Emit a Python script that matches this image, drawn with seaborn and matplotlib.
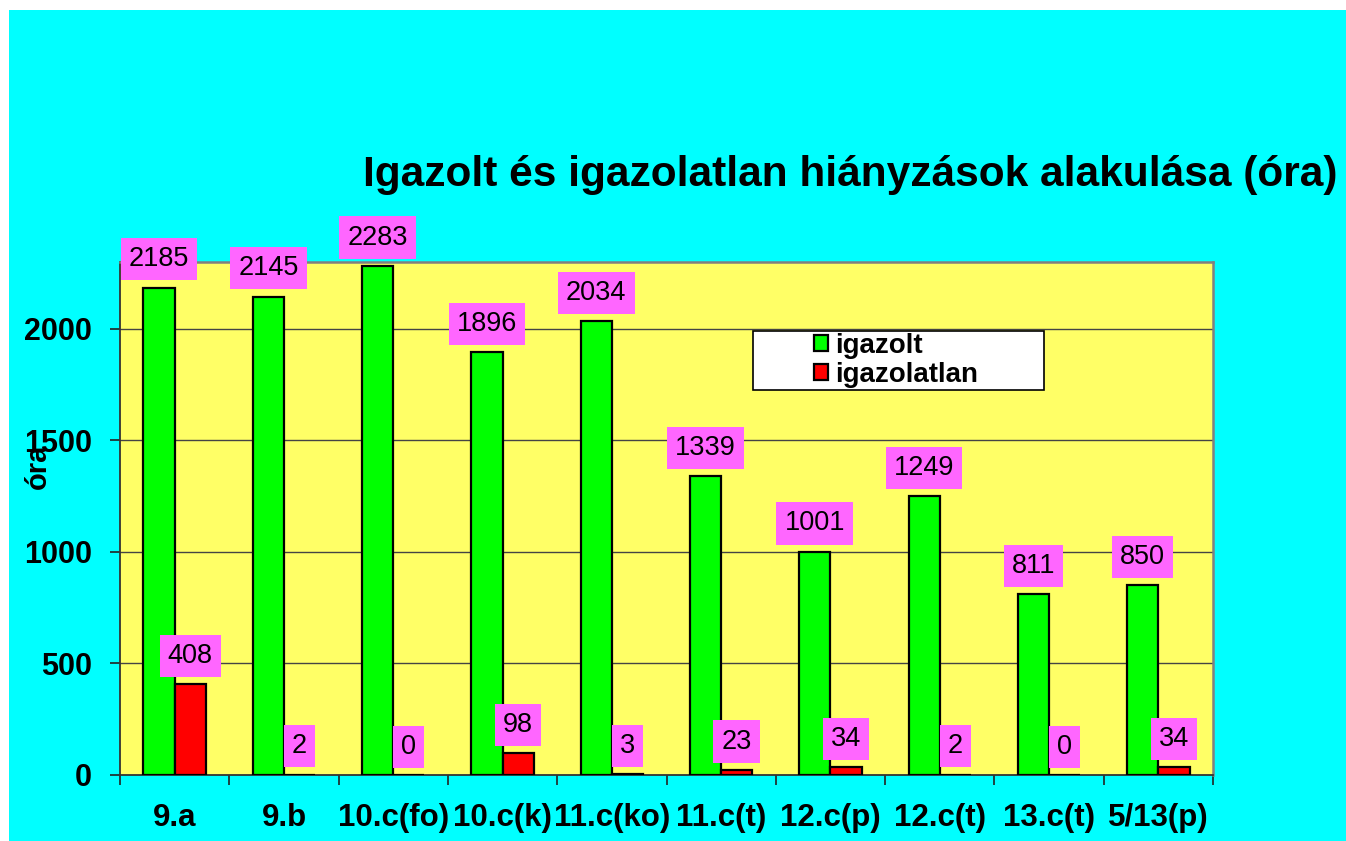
import matplotlib
matplotlib.use('Agg')
import matplotlib.pyplot as plt
from matplotlib.patches import Rectangle
import pandas as pd
import seaborn as sns

# adatok
osztalyok = ['9.a', '9.b', '10.c(fo)', '10.c(k)', '11.c(ko)', '11.c(t)',
             '12.c(p)', '12.c(t)', '13.c(t)', '5/13(p)']
igazolt = [2185, 2145, 2283, 1896, 2034, 1339, 1001, 1249, 811, 850]
igazolatlan = [408, 2, 0, 98, 3, 23, 34, 2, 0, 34]
tipusok = ['igazolt', 'igazolatlan']
y_ticks = [0, 500, 1000, 1500, 2000]

df = pd.DataFrame({
    'osztaly': osztalyok * 2,
    'ora': igazolt + igazolatlan,
    'tipus': [tipusok[0]] * len(osztalyok) + [tipusok[1]] * len(osztalyok),
})

sns.set_style('white')
plt.rcParams['font.family'] = ['Liberation Sans', 'DejaVu Sans']
plt.rcParams['text.color'] = 'black'
plt.rcParams['xtick.color'] = 'black'
plt.rcParams['ytick.color'] = 'black'

fig = plt.figure(figsize=(13.46, 8.41), dpi=100, facecolor='white')
fig.add_artist(Rectangle((9 / 1346, 0), 1, 1 - 10 / 841, transform=fig.transFigure,
                         facecolor='#00FFFF', edgecolor='none', zorder=-10))
ax = fig.add_axes([120 / 1346, 1 - 775 / 841, 1093 / 1346, 513 / 841])
ax.set_facecolor('#FFFF66')

sns.barplot(data=df, x='osztaly', y='ora', hue='tipus', order=osztalyok, hue_order=tipusok,
            palette=['#00FF00', '#FF0000'], saturation=1, edgecolor='black', linewidth=1.6,
            width=0.57, ax=ax, zorder=3)

# értékcímkék
for cont in ax.containers:
    ax.bar_label(cont, padding=11, fontsize=19.5, color='black', zorder=5,
                 bbox=dict(boxstyle='square,pad=0.3', facecolor='#FF66FF', edgecolor='none'))

ax.set_xlim(-0.5, len(osztalyok) - 0.5)
ax.set_ylim(0, 2300)
ax.set_yticks(y_ticks)
for yv in y_ticks[1:]:
    ax.axhline(yv, color='#444444', lw=1, zorder=1)

ax.set_xticks(range(len(osztalyok)))
ax.set_xticklabels(osztalyok, fontsize=22.5, fontweight='bold')
ax.set_xticks([i - 0.5 for i in range(len(osztalyok) + 1)], minor=True)
ax.tick_params(axis='x', which='major', bottom=True, length=0, pad=20)
ax.tick_params(axis='x', which='minor', bottom=True, length=7, width=1.2, direction='out',
               color='#222222')
ax.tick_params(axis='y', left=True, length=7, width=1.2, direction='out', pad=13,
               color='#222222', labelsize=22)
for t in ax.get_yticklabels():
    t.set_fontweight('bold')

for s in ['top', 'right']:
    ax.spines[s].set_color('#808080')
    ax.spines[s].set_linewidth(1.8)
for s in ['left', 'bottom']:
    ax.spines[s].set_color('#333333')
    ax.spines[s].set_linewidth(1.3)

ax.set_xlabel('')
ax.set_ylabel('')

# jelmagyarázat
ax.add_patch(Rectangle((0.579, 0.750), 0.266, 0.116, transform=ax.transAxes,
                       facecolor='white', edgecolor='black', lw=1.2, zorder=6))
leg = ax.legend(loc='center', bbox_to_anchor=(0.71, 0.808), frameon=False,
                prop={'size': 20, 'weight': 'bold'}, handlelength=0.5, handleheight=0.5,
                handletextpad=0.25, labelspacing=0.1, borderpad=0)
leg.set_zorder(7)
for h in leg.legend_handles:
    h.set_edgecolor('black')
    h.set_linewidth(1.6)

fig.text(850 / 1346, 1 - 175 / 841, 'Igazolt és igazolatlan hiányzások alakulása (óra)',
         ha='center', va='center', fontsize=30.5, fontweight='bold')
fig.text(38 / 1346, 1 - 466 / 841, 'óra', rotation=90, ha='center', va='center',
         fontsize=21, fontweight='bold')

plt.savefig('out.png', dpi=100, facecolor=fig.get_facecolor())
